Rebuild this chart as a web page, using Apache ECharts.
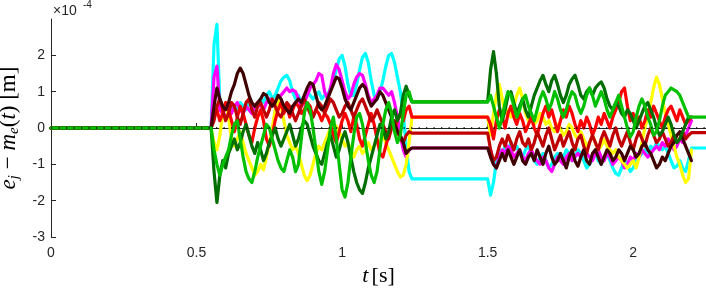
<!DOCTYPE html>
<html>
<head>
<meta charset="utf-8">
<script src="https://cdn.jsdelivr.net/npm/echarts@6/dist/echarts.min.js"></script>
<style>html,body{margin:0;padding:0;background:#fff}#c{width:706px;height:288px}</style>
</head>
<body>
<div id="c"></div>
<script>
// ---- data (values in units of 1e-4 m) ----
const tSeg1 = [0.55,0.56,0.57,0.58,0.59,0.60,0.61,0.62,0.63,0.64,0.65,0.66,0.67,0.68,0.69,0.70,0.71,0.72,0.73,0.74,0.75,0.76,0.77,0.78,0.79,0.80,0.81,0.82,0.83,0.84,0.85,0.86,0.87,0.88,0.89,0.90,0.91,0.92,0.93,0.94,0.95,0.96,0.97,0.98,0.99,1.00,1.01,1.02,1.03,1.04,1.05,1.06,1.07,1.08,1.09,1.10,1.11,1.12,1.13,1.14,1.15,1.16,1.17,1.18,1.19,1.20,1.21,1.22,1.23,1.24];
const tSeg2 = [1.50,1.51,1.52,1.53,1.54,1.55,1.56,1.57,1.58,1.59,1.60,1.61,1.62,1.63,1.64,1.65,1.66,1.67,1.68,1.69,1.70,1.71,1.72,1.73,1.74,1.75,1.76,1.77,1.78,1.79,1.80,1.81,1.82,1.83,1.84,1.85,1.86,1.87,1.88,1.89,1.90,1.91,1.92,1.93,1.94,1.95,1.96,1.97,1.98,1.99,2.00,2.01,2.02,2.03,2.04,2.05,2.06,2.07,2.08,2.09,2.10,2.11,2.12,2.13,2.14,2.15,2.16,2.17,2.18,2.19,2.20];
const tStart = 0, tEnd = 2.25;

const cyan1 = [0.0,2.3,2.85,0.7,0.5,0.6,0.4,0.5,0.6,0.5, 0.7,0.6,0.5,0.7,0.6,0.5,0.6,0.8,0.7,0.9, 1.0,0.8,0.9,1.1,1.3,1.4,1.45,1.3,1.0,0.8, 0.9,0.7,0.8,1.0,0.9,0.8,0.9,1.0,0.8,0.9, 0.9,1.1,1.3,1.6,1.9,2.0,1.7,1.2,0.9,0.9, 1.2,1.6,1.95,2.05,1.8,1.3,0.9,0.8,1.0,1.3, 1.7,2.0,2.05,1.8,1.4,1.0,0.4,-0.5,-1.2,-1.4];
const magenta1 = [0.0,1.4,1.7,0.5,0.4,0.3,0.5,0.4,0.6,0.7, 0.5,0.4,0.6,0.5,0.4,0.6,0.7,0.6,0.5,0.7, 0.8,0.7,0.6,0.8,0.9,1.0,1.1,1.0,1.05,1.0, 0.8,0.6,0.7,0.9,1.1,1.2,1.3,1.5,1.45,1.0, 0.8,1.1,1.5,1.75,1.6,1.3,1.0,0.8,0.9,1.2, 1.4,1.5,1.45,1.2,0.9,0.7,0.8,0.9,1.1,1.1, 1.0,0.9,1.0,0.7,0.3,-0.2,-0.6,-0.8,-0.6,-0.55];
const yellow1 = [0.0,-0.4,-0.6,-0.2,0.4,0.7,0.3,-0.3,-0.5,-0.3, -0.1,-0.4,-0.7,-0.9,-1.1,-1.3,-1.2,-1.0,-1.15,-0.8, -0.4,0.0,0.5,0.8,0.6,0.2,-0.2,-0.4,-0.6,-0.5, -0.7,-1.0,-1.3,-1.45,-1.3,-1.0,-0.7,-0.5,-0.6,-0.4, -0.2,0.0,0.1,0.05,-0.1,-0.3,-0.5,-0.4,-0.6,-0.8, -0.6,-0.5,-0.7,-0.6,-0.4,-0.6,-0.5,-0.3,-0.4,-0.2, -0.4,-0.6,-0.8,-1.0,-1.2,-1.35,-1.3,-1.0,-0.4,0.3];
const red1 = [0.0,0.3,0.5,0.2,0.4,0.7,0.5,0.2,-0.1,0.3, 0.6,0.4,0.1,-0.2,-0.4,0.0,0.3,0.5,0.2,-0.3, -0.5,-0.2,0.2,0.5,0.7,0.4,0.6,0.3,0.5,0.7, 0.6,0.4,0.5,0.7,0.6,0.3,0.5,0.4,0.2,0.4, 0.3,0.1,-0.2,-0.4,-0.1,0.2,0.4,0.2,-0.1,0.3, 0.1,-0.3,-0.5,-0.2,0.1,0.4,0.1,-0.3,-0.7,-0.8, -0.5,-0.2,0.1,0.0,0.2,0.4,0.2,0.5,0.6,0.3];
const darkred1 = [0.0,0.2,0.6,0.8,0.5,0.2,0.4,0.7,0.6,0.3, 0.1,0.4,0.7,0.8,0.5,0.3,0.6,0.7,0.5,0.3, 0.5,0.8,0.6,0.4,0.3,0.5,0.7,0.6,0.4,0.2, 0.4,0.6,0.8,0.6,0.4,0.3,0.5,0.7,0.6,0.4, 0.6,0.8,0.7,0.5,0.3,0.4,0.6,0.7,0.5,0.3, 0.5,0.7,0.8,0.6,0.4,0.2,0.3,0.5,0.3,0.1, -0.1,-0.3,0.0,0.2,-0.1,-0.3,-0.4,-0.2,-0.1,-0.14];
const maroon1 = [0.0,0.6,1.1,0.8,0.6,0.5,0.7,1.0,1.2,1.5, 1.65,1.5,1.2,0.9,0.7,0.6,0.7,0.8,0.95,0.9, 0.7,0.6,0.7,0.9,0.8,0.6,0.5,0.4,0.6,0.7, 0.8,0.7,0.9,1.1,1.25,1.2,0.9,0.6,0.5,0.6, 0.8,1.0,1.2,1.4,1.35,1.1,0.8,0.6,0.5,0.7, 0.9,1.1,1.2,1.1,0.8,0.6,0.7,0.8,1.0,0.9, 0.7,0.5,0.3,0.1,-0.1,-0.2,-0.4,-0.7,-0.6,-0.55];
const darkgreen1 = [0.0,-1.2,-2.05,-1.3,-0.9,-1.1,-0.7,-0.5,-0.3,-0.6, -0.4,-0.1,0.1,-0.2,-0.5,-0.7,-0.4,-0.6,-0.9,-0.7, -0.4,-0.2,0.0,-0.3,-0.5,-0.3,-0.1,0.1,-0.2,-0.5, -0.3,0.0,0.2,0.1,-0.2,-0.5,-0.7,-0.9,-1.0,-0.7, -0.4,-0.2,-0.5,-0.8,-0.6,-0.3,-0.1,-0.4,-0.8,-1.2, -1.5,-1.7,-1.8,-1.5,-1.1,-0.8,-0.5,-0.2,0.1,0.0, -0.3,-0.1,0.3,0.5,0.2,0.4,0.9,1.15,0.9,0.72];
const green1 = [0.0,-0.6,-1.0,-1.3,-1.0,-0.8,-0.6,-0.2,0.1,0.2, -0.3,-0.8,-1.2,-1.4,-1.5,-1.2,-0.8,-0.5,-0.2,0.1, 0.0,-0.3,-0.6,-0.9,-1.1,-1.2,-0.9,-0.6,-0.8,-1.2, -1.0,-0.3,0.4,0.7,0.5,0.0,-0.6,-1.2,-1.55,-1.2, -0.6,0.0,0.3,-0.3,-1.0,-1.7,-1.9,-1.5,-0.8,-0.2, 0.3,0.4,0.1,-0.4,-0.9,-1.3,-1.5,-1.2,-0.6,0.1, 0.5,0.7,0.4,-0.1,-0.4,-0.2,0.4,0.9,1.0,0.72];

const cyan2 = [-1.4,-1.85,-1.5,-0.9,-0.6,-0.7,-0.5,-0.6,-0.4,-0.6, -0.5,-0.7,-0.8,-0.6,-0.5,-0.7,-0.9,-1.0,-0.8,-0.7, -0.9,-1.1,-1.0,-0.8,-0.7,-0.9,-0.8,-0.6,-0.7,-0.9, -0.8,-0.6,-0.7,-0.9,-1.1,-1.0,-0.8,-0.7,-0.9,-1.0, -0.8,-0.7,-0.9,-1.1,-1.25,-1.3,-1.1,-0.9,-1.0,-1.2, -1.1,-0.9,-0.8,-0.7,-0.6,-0.7,-0.5,-0.6,-0.4,-0.5, -0.6,-0.5,-0.7,-0.9,-1.1,-1.05,-0.9,-1.1,-1.2,-0.9,-0.55];
const magenta2 = [-0.55,-0.6,-1.0,-1.1,-0.8,-0.6,-0.7,-0.5,-0.6,-0.8, -0.7,-0.6,-0.8,-0.9,-0.7,-0.6,-0.8,-0.9,-1.0,-0.8, -0.9,-1.1,-1.2,-1.0,-0.8,-0.9,-1.0,-0.8,-0.7,-0.9, -0.8,-0.7,-0.8,-0.6,-0.7,-0.8,-0.9,-0.7,-0.6,-0.8, -0.9,-0.7,-0.8,-1.0,-0.9,-0.8,-0.9,-1.1,-1.0,-0.8, -0.9,-0.7,-0.8,-0.6,-0.7,-0.8,-0.7,-0.6,-0.5,-0.6, -0.4,-0.5,-0.3,-0.4,-0.6,-0.5,-0.3,-0.4,-0.2,0.0,0.2];
const yellow2 = [0.3,-0.2,0.4,0.9,1.2,0.8,0.4,0.5,0.3,0.6, 0.9,1.1,0.8,0.4,0.2,0.3,0.1,0.2,0.4,0.3, 0.1,0.2,0.0,-0.1,0.1,0.0,-0.2,-0.1,0.1,0.0, -0.2,-0.3,-0.1,-0.3,-0.5,-0.4,-0.2,-0.4,-0.6,-0.5, -0.3,-0.5,-0.6,-0.7,-0.6,-0.8,-0.9,-1.0,-1.1,-1.0, -0.9,-1.1,-0.8,-0.4,0.0,0.3,0.7,1.1,1.4,1.2, 0.8,0.4,0.1,-0.2,-0.5,-0.8,-1.0,-1.3,-1.5,-1.4,-0.6];
const red2 = [0.3,0.1,-0.3,0.2,0.5,0.3,0.0,0.4,0.6,0.3, 0.1,0.4,0.2,-0.1,0.1,0.3,0.0,-0.2,0.1,0.4, 0.6,0.3,0.5,0.2,-0.1,0.2,0.5,0.3,0.6,0.4, 0.1,-0.1,0.2,0.0,0.3,0.1,-0.2,0.0,0.3,0.1, 0.4,0.2,0.0,0.3,0.5,0.7,1.0,1.1,0.6,0.2, 0.4,0.1,0.3,0.0,0.2,0.5,0.3,0.6,0.4,0.2, 0.0,0.3,0.5,0.6,0.4,0.2,0.5,0.3,0.1,0.2,0.3];
const darkred2 = [-0.14,-0.6,-0.9,-0.8,-0.5,-0.3,-0.5,-0.2,-0.4,-0.6, -0.3,-0.1,-0.4,-0.5,-0.3,-0.6,-0.4,-0.1,-0.3,-0.5, -0.2,0.0,-0.3,-0.6,-0.4,-0.2,-0.5,-0.3,-0.1,-0.4, -0.6,-0.3,-0.2,-0.5,-0.7,-0.4,-0.2,-0.4,-0.6,-0.3, -0.1,-0.3,-0.5,-0.2,0.0,-0.3,-0.5,-0.3,-0.1,-0.4, -0.6,-0.3,-0.1,-0.3,-0.5,-0.2,0.0,-0.2,-0.4,-0.3, -0.1,-0.3,-0.5,-0.4,-0.2,-0.4,-0.3,-0.1,-0.3,-0.2,-0.13];
const maroon2 = [-0.55,-0.8,-1.0,-1.1,-0.9,-0.7,-0.9,-0.6,-0.8,-1.0, -0.8,-0.6,-0.9,-1.0,-0.8,-0.7,-0.9,-0.6,-0.8,-1.0, -0.7,-0.5,-0.8,-1.0,-0.9,-0.7,-0.9,-1.1,-0.8,-0.6, -0.9,-1.05,-0.8,-0.6,-0.9,-1.0,-0.7,-0.6,-0.8,-1.0, -0.8,-0.6,-0.7,-0.9,-0.8,-0.6,-0.7,-0.9,-0.7,-0.5, -0.6,-0.8,-0.7,-0.5,-0.4,-0.6,-0.7,-0.9,-1.1,-1.0, -0.8,-0.9,-0.7,-0.5,-0.4,-0.2,-0.1,-0.3,-0.5,-0.7,-0.9];
const darkgreen2 = [0.72,1.6,2.1,1.5,0.6,0.2,0.5,0.9,1.0,0.7, 0.4,0.6,0.8,0.5,0.3,0.6,0.9,1.1,1.3,1.45, 1.2,1.0,1.3,1.45,1.2,0.9,0.7,0.9,1.2,1.35, 1.45,1.2,0.9,0.8,1.0,1.1,0.9,1.1,1.2,1.27, 1.1,0.8,0.6,0.5,0.7,0.6,0.4,0.3,0.5,0.4, 0.2,0.0,0.2,0.4,0.6,0.7,0.5,0.3,0.0,-0.2, -0.1,0.1,0.3,0.1,-0.2,-0.4,-0.3,-0.1,0.1,0.3,0.3];
const green2 = [0.72,0.9,0.6,0.3,0.0,0.3,0.7,1.0,0.9,0.6, 0.3,0.5,0.8,0.9,0.6,0.4,0.2,0.5,0.8,1.0, 0.8,0.5,0.7,1.0,0.8,0.5,0.3,0.5,0.8,1.0, 0.9,0.6,0.4,0.6,0.9,1.1,0.9,0.6,0.8,1.0, 0.8,0.5,0.3,0.5,0.7,0.9,0.6,0.3,0.0,-0.25, -0.1,0.3,0.6,0.8,0.6,0.3,0.1,-0.2,-0.1,0.2, 0.6,0.9,1.0,1.1,1.05,1.0,0.9,0.7,0.5,0.3,0.3];

// which series continue (flat) after the last sample to the end of the axis
const holdToEnd = {cyan: true, darkred: true, green: true};

const xTicks = [0, 0.5, 1, 1.5, 2];
const yTicks = [-3, -2, -1, 0, 1, 2];

// ---- build ----
const defs = [
  ['cyan', '#00ffff', cyan1, cyan2],
  ['magenta', '#ff00ff', magenta1, magenta2],
  ['yellow', '#ffff00', yellow1, yellow2],
  ['red', '#ff0000', red1, red2],
  ['darkred', '#c00000', darkred1, darkred2],
  ['maroon', '#400000', maroon1, maroon2],
  ['darkgreen', '#006e00', darkgreen1, darkgreen2],
  ['green', '#00c000', green1, green2]
];

const series = defs.map(([name, color, a, b]) => {
  const data = [[tStart, 0]];
  tSeg1.forEach((t, i) => data.push([t, a[i]]));
  tSeg2.forEach((t, i) => data.push([t, b[i]]));
  if (holdToEnd[name]) data.push([tEnd, b[b.length - 1]]);
  return {
    name, type: 'line', data, symbol: 'none', silent: true,
    lineStyle: {color, width: 3.2, join: 'round', cap: 'round'}, itemStyle: {color}
  };
});
series.push({
  name: 'mean', type: 'line', data: [[tStart, 0], [tEnd, 0]], symbol: 'none', silent: true, z: 5,
  lineStyle: {color: '#000', width: 1.3, type: [1.3, 6.2]}
});

const axisCol = '#262626';
const chart = echarts.init(document.getElementById('c'), null, {renderer: 'canvas'});
chart.setOption({
  animation: false,
  backgroundColor: '#fff',
  grid: {left: 51, top: 19, right: 0, bottom: 51, containLabel: false, outerBoundsMode: 'none'},
  xAxis: {
    type: 'value', min: tStart, max: tEnd,
    name: '{i|t} {n|[s]}', nameLocation: 'middle', nameGap: 22,
    nameTextStyle: {rich: {
      i: {fontFamily: 'Liberation Serif', fontStyle: 'italic', fontSize: 22, color: '#000'},
      n: {fontFamily: 'Liberation Serif', fontSize: 22, color: '#000'}
    }},
    axisLine: {lineStyle: {color: axisCol, width: 1}},
    axisTick: {inside: true, length: 5, customValues: xTicks, lineStyle: {color: axisCol}},
    axisLabel: {customValues: xTicks, margin: 9, color: axisCol, fontFamily: 'Liberation Sans', fontSize: 14},
    splitLine: {show: false}
  },
  yAxis: {
    type: 'value', min: -3, max: 3, interval: 1,
    name: '{i|e}{s|j}{n| − }{i|m}{s|e}{n|(}{i|t}{n|) [m]}', nameLocation: 'middle', nameRotate: 90, nameGap: 22,
    nameTextStyle: {rich: {
      i: {fontFamily: 'Liberation Serif', fontStyle: 'italic', fontSize: 23, color: '#000'},
      s: {fontFamily: 'Liberation Serif', fontStyle: 'italic', fontSize: 15, color: '#000', padding: [10, 0, 0, 0]},
      n: {fontFamily: 'Liberation Serif', fontSize: 23, color: '#000'}
    }},
    axisLine: {show: true, lineStyle: {color: axisCol, width: 1}},
    axisTick: {show: true, inside: true, length: 5, customValues: yTicks, lineStyle: {color: axisCol}},
    axisLabel: {customValues: yTicks, margin: 6, color: axisCol, fontFamily: 'Liberation Sans', fontSize: 14},
    splitLine: {show: false}
  },
  graphic: [
    {type: 'text', left: 53, top: 4, style: {text: '×10', fontFamily: 'Liberation Sans', fontSize: 14, fill: axisCol}},
    {type: 'text', left: 83, top: 0, style: {text: '-4', fontFamily: 'Liberation Sans', fontSize: 10, fill: axisCol}}
  ],
  series
});
</script>
</body>
</html>
